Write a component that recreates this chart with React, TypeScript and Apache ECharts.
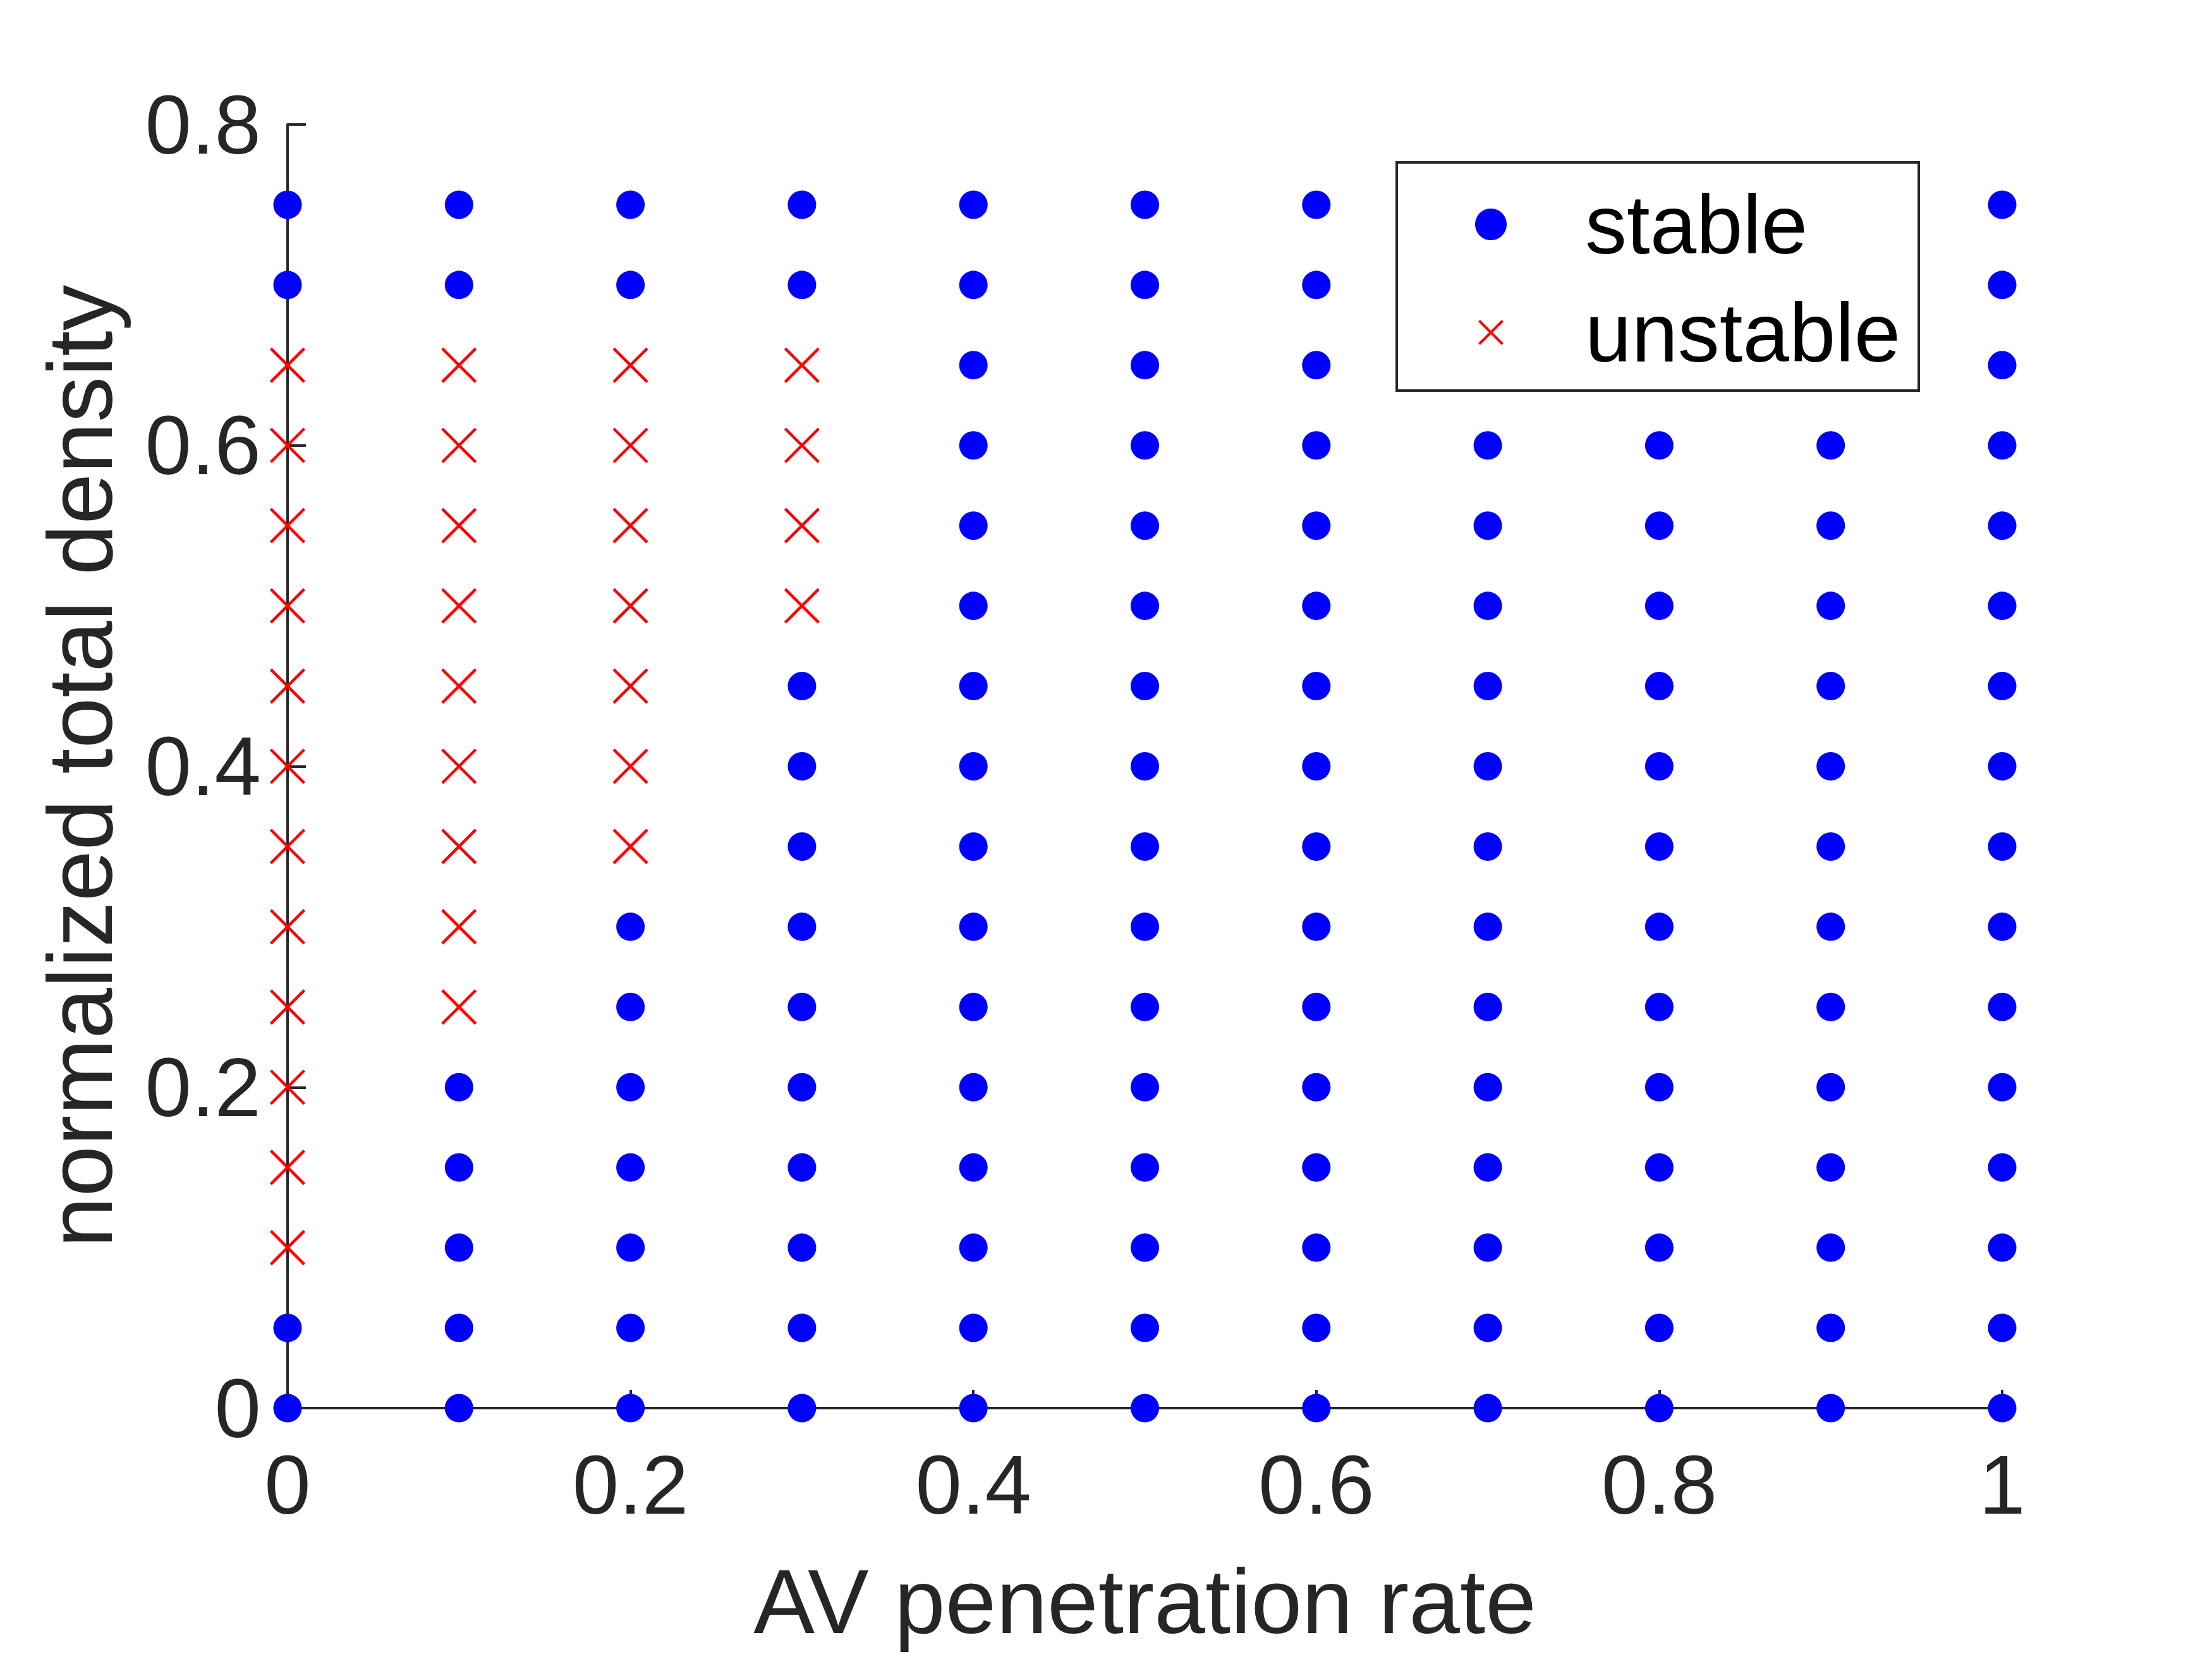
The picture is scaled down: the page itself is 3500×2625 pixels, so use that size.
import React, { useEffect, useRef } from "react";
import * as echarts from "echarts";

// AV penetration rates (x) sampled in the stability sweep
const penetrationRates = [0, 0.1, 0.2, 0.3, 0.4, 0.5, 0.6, 0.7, 0.8, 0.9, 1];

// Normalized total densities found stable, one list per penetration rate
const stableDensities: number[][] = [
  [0, 0.05, 0.7, 0.75],
  [0, 0.05, 0.1, 0.15, 0.2, 0.7, 0.75],
  [0, 0.05, 0.1, 0.15, 0.2, 0.25, 0.3, 0.7, 0.75],
  [0, 0.05, 0.1, 0.15, 0.2, 0.25, 0.3, 0.35, 0.4, 0.45, 0.7, 0.75],
  [0, 0.05, 0.1, 0.15, 0.2, 0.25, 0.3, 0.35, 0.4, 0.45, 0.5, 0.55, 0.6, 0.65, 0.7, 0.75],
  [0, 0.05, 0.1, 0.15, 0.2, 0.25, 0.3, 0.35, 0.4, 0.45, 0.5, 0.55, 0.6, 0.65, 0.7, 0.75],
  [0, 0.05, 0.1, 0.15, 0.2, 0.25, 0.3, 0.35, 0.4, 0.45, 0.5, 0.55, 0.6, 0.65, 0.7, 0.75],
  [0, 0.05, 0.1, 0.15, 0.2, 0.25, 0.3, 0.35, 0.4, 0.45, 0.5, 0.55, 0.6, 0.65, 0.7, 0.75],
  [0, 0.05, 0.1, 0.15, 0.2, 0.25, 0.3, 0.35, 0.4, 0.45, 0.5, 0.55, 0.6, 0.65, 0.7, 0.75],
  [0, 0.05, 0.1, 0.15, 0.2, 0.25, 0.3, 0.35, 0.4, 0.45, 0.5, 0.55, 0.6, 0.65, 0.7, 0.75],
  [0, 0.05, 0.1, 0.15, 0.2, 0.25, 0.3, 0.35, 0.4, 0.45, 0.5, 0.55, 0.6, 0.65, 0.7, 0.75],
];

// Normalized total densities found unstable, one list per penetration rate
const unstableDensities: number[][] = [
  [0.1, 0.15, 0.2, 0.25, 0.3, 0.35, 0.4, 0.45, 0.5, 0.55, 0.6, 0.65],
  [0.25, 0.3, 0.35, 0.4, 0.45, 0.5, 0.55, 0.6, 0.65],
  [0.35, 0.4, 0.45, 0.5, 0.55, 0.6, 0.65],
  [0.5, 0.55, 0.6, 0.65],
  [],
  [],
  [],
  [],
  [],
  [],
  [],
];

const xTickInterval = 0.2;
const yTickInterval = 0.2;

const FONT = "'Liberation Sans', Arial, Helvetica, sans-serif";
const AXIS_COLOR = "#262626";
const CROSS = "path://M0,0L10,10M10,0L0,10";
const CROSS_LEGEND = "path://M0,0M50,50M6.5,6.5L43.5,43.5M43.5,6.5L6.5,43.5";

function toPoints(lists: number[][]): [number, number][] {
  const pts: [number, number][] = [];
  lists.forEach((ys, i) => ys.forEach((y) => pts.push([penetrationRates[i], y])));
  return pts;
}

export default function App() {
  const ref = useRef<HTMLDivElement>(null);

  useEffect(() => {
    document.body.style.margin = "0";
    if (!ref.current) return;
    const chart = echarts.init(ref.current, undefined, { renderer: "svg" });

    const axisCommon = {
      type: "value" as const,
      splitLine: { show: false },
      axisLine: { show: true, lineStyle: { color: AXIS_COLOR, width: 4 } },
      axisTick: { show: true, inside: true, length: 29, lineStyle: { color: AXIS_COLOR, width: 4 } },
      nameLocation: "middle" as const,
      nameTextStyle: { fontSize: 145, color: AXIS_COLOR, fontFamily: FONT },
    };

    chart.setOption({
      animation: false,
      backgroundColor: "#ffffff",
      textStyle: { fontFamily: FONT },
      grid: { left: 455, top: 197, width: 2713, height: 2031, containLabel: false },
      xAxis: {
        ...axisCommon,
        min: 0,
        max: 1,
        interval: xTickInterval,
        name: "AV penetration rate",
        nameGap: 233,
        axisLabel: { fontSize: 132, color: AXIS_COLOR, margin: 55, fontFamily: FONT },
      },
      yAxis: {
        ...axisCommon,
        min: 0,
        max: 0.8,
        interval: yTickInterval,
        name: "normalized total density",
        nameGap: 256,
        axisLabel: { fontSize: 132, color: AXIS_COLOR, margin: 42, fontFamily: FONT },
      },
      legend: {
        orient: "vertical",
        left: 2210,
        top: 257,
        padding: [32, 29, 26, 122],
        itemWidth: 288,
        itemHeight: 50,
        itemGap: 39,
        backgroundColor: "#ffffff",
        borderColor: AXIS_COLOR,
        borderWidth: 4,
        textStyle: { fontSize: 132, color: "#000000", fontFamily: FONT },
        data: [
          { name: "stable", icon: "circle", itemStyle: { color: "#0000ff", borderWidth: 0, opacity: 1 } },
          {
            name: "unstable",
            icon: CROSS_LEGEND,
            itemStyle: { color: "#ff0000", borderColor: "#ff0000", borderWidth: 4, opacity: 1 },
          },
        ],
      },
      series: [
        {
          name: "stable",
          type: "scatter",
          clip: false,
          symbol: "circle",
          symbolSize: 45,
          itemStyle: { color: "#0000ff", opacity: 1 },
          data: toPoints(stableDensities),
        },
        {
          name: "unstable",
          type: "scatter",
          clip: false,
          symbol: CROSS,
          symbolSize: 53,
          itemStyle: { color: "#ff0000", borderColor: "#ff0000", borderWidth: 4.5, opacity: 1 },
          data: toPoints(unstableDensities),
        },
      ],
    });

    return () => chart.dispose();
  }, []);

  return <div ref={ref} style={{ width: 3500, height: 2625 }} />;
}
